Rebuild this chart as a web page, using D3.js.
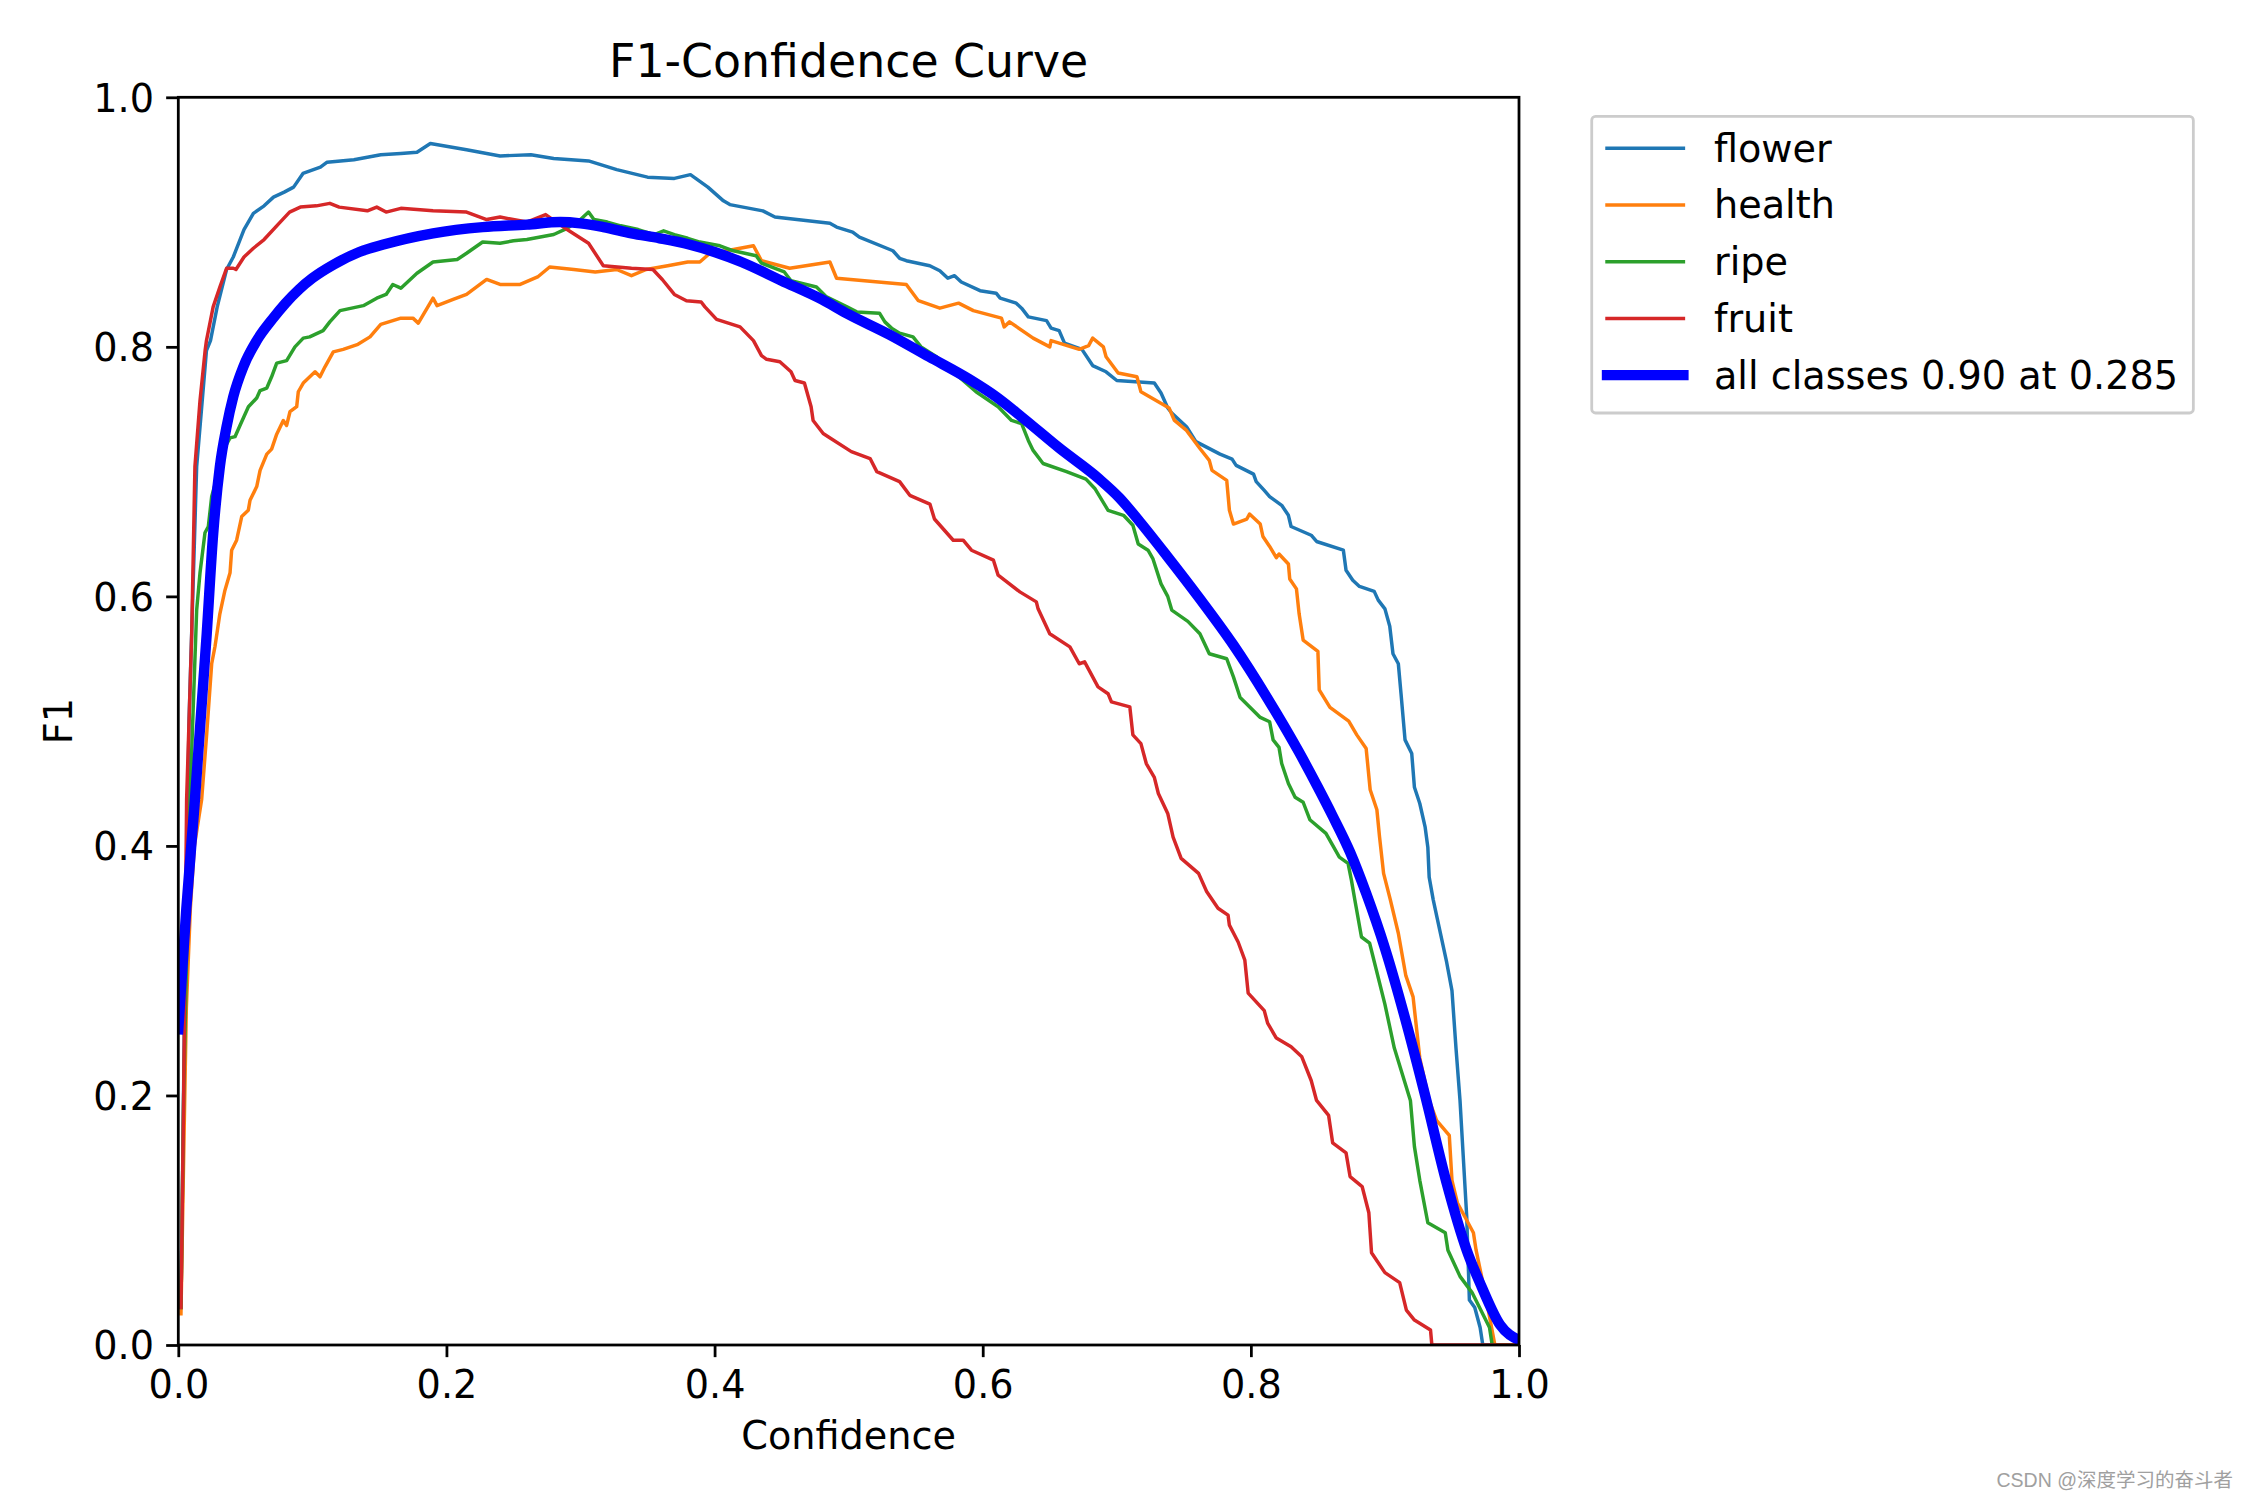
<!DOCTYPE html>
<html>
<head>
<meta charset="utf-8">
<script src="https://cdn.jsdelivr.net/npm/d3@7"></script>
<style>
  html, body { margin: 0; padding: 0; background: #ffffff; }
  svg { display: block; }
</style>
</head>
<body>
<svg id="chart" width="2250" height="1500"></svg>
<script>
// ---------------- DATA ----------------
const chartTitle = "F1-Confidence Curve";
const xLabel = "Confidence";
const yLabel = "F1";
const tickValues = [0, 0.2, 0.4, 0.6, 0.8, 1.0];
const seriesNames = ["flower", "health", "ripe", "fruit", "all classes 0.90 at 0.285"];
const seriesColors = ["#1f77b4", "#ff7f0e", "#2ca02c", "#d62728", "#0000ff"];
const watermark = "CSDN @深度学习的奋斗者";

const flower = [[.002,.03],[.005,.3],[.008,.5],[.0137,.704],[.021,.797],[.024,.805],[.029,.832],[.036,.862],[.041,.872],[.049,.894],[.056,.907],[.064,.913],[.071,.92],[.079,.924],[.086,.928],[.093,.939],[.106,.944],[.111,.948],[.131,.95],[.151,.954],[.166,.955],[.178,.956],[.188,.963],[.215,.958],[.24,.953],[.263,.954],[.28,.951],[.306,.949],[.327,.942],[.35,.936],[.37,.935],[.382,.938],[.395,.928],[.4066,.917],[.4114,.914],[.436,.909],[.445,.904],[.486,.899],[.491,.896],[.503,.892],[.508,.888],[.533,.877],[.538,.871],[.543,.869],[.5605,.865],[.568,.861],[.574,.855],[.579,.857],[.584,.852],[.598,.845],[.61,.843],[.613,.839],[.625,.835],[.629,.831],[.634,.824],[.6476,.821],[.651,.815],[.657,.813],[.661,.803],[.674,.798],[.682,.785],[.692,.78],[.70,.773],[.728,.771],[.733,.763],[.738,.751],[.741,.747],[.752,.736],[.759,.724],[.777,.714],[.786,.71],[.789,.705],[.802,.698],[.804,.692],[.81,.685],[.814,.68],[.823,.673],[.828,.665],[.83,.656],[.845,.649],[.849,.644],[.869,.637],[.871,.621],[.876,.613],[.881,.608],[.892,.604],[.895,.597],[.90,.59],[.9036,.576],[.906,.554],[.91,.546],[.912,.522],[.915,.485],[.92,.474],[.922,.447],[.926,.434],[.93,.415],[.932,.399],[.933,.375],[.936,.357],[.939,.342],[.946,.307],[.95,.284],[.953,.238],[.956,.196],[.961,.103],[.963,.036],[.967,.03],[.971,.014],[.973,0],[1,0]];

const health = [[.002,.025],[.004,.15],[.006,.27],[.009,.35],[.012,.4],[.0174,.437],[.0212,.49],[.0249,.546],[.0274,.56],[.031,.586],[.0348,.605],[.0386,.619],[.0398,.637],[.0435,.645],[.0473,.664],[.0522,.669],[.0535,.677],[.0585,.688],[.061,.701],[.066,.714],[.0696,.718],[.0734,.73],[.0783,.741],[.0808,.737],[.0833,.748],[.0883,.752],[.0895,.764],[.0932,.771],[.102,.78],[.1057,.776],[.1094,.784],[.1156,.796],[.123,.798],[.134,.802],[.143,.808],[.151,.818],[.166,.823],[.175,.823],[.179,.819],[.19,.839],[.193,.833],[.205,.838],[.215,.842],[.23,.854],[.24,.85],[.255,.85],[.268,.856],[.277,.864],[.295,.862],[.311,.86],[.327,.862],[.338,.857],[.349,.862],[.365,.865],[.38,.868],[.389,.868],[.3965,.875],[.409,.877],[.429,.881],[.435,.869],[.456,.863],[.486,.868],[.491,.855],[.543,.85],[.552,.837],[.568,.831],[.582,.835],[.593,.829],[.614,.823],[.616,.816],[.62,.82],[.6376,.807],[.65,.80],[.651,.805],[.672,.798],[.679,.801],[.682,.807],[.69,.80],[.692,.792],[.701,.779],[.715,.776],[.718,.764],[.739,.751],[.743,.741],[.752,.733],[.762,.7185],[.769,.709],[.771,.701],[.782,.693],[.784,.669],[.787,.658],[.797,.662],[.799,.666],[.807,.658],[.809,.648],[.814,.64],[.819,.631],[.821,.634],[.828,.626],[.829,.614],[.834,.606],[.836,.586],[.839,.565],[.85,.556],[.851,.525],[.859,.511],[.873,.50],[.879,.489],[.886,.478],[.889,.445],[.894,.429],[.896,.407],[.899,.378],[.904,.357],[.91,.33],[.9156,.296],[.921,.279],[.926,.23],[.933,.196],[.9385,.18],[.948,.168],[.95,.132],[.954,.114],[.966,.09],[.968,.076],[.975,.04],[.982,0],[1,0]];

const ripe = [[.002,.03],[.004,.2],[.0087,.437],[.0137,.589],[.0162,.619],[.0199,.651],[.0224,.656],[.0249,.68],[.03,.70],[.035,.72],[.0386,.727],[.0423,.728],[.046,.737],[.0523,.752],[.0585,.759],[.061,.765],[.066,.767],[.0696,.776],[.0734,.787],[.0808,.789],[.087,.80],[.0932,.807],[.098,.808],[.108,.813],[.113,.82],[.1206,.829],[.138,.833],[.148,.839],[.155,.842],[.16,.85],[.166,.847],[.178,.859],[.19,.868],[.208,.87],[.215,.875],[.227,.884],[.24,.883],[.25,.885],[.26,.886],[.27,.888],[.28,.89],[.29,.895],[.3,.902],[.306,.908],[.31,.902],[.32,.9],[.33,.897],[.343,.894],[.355,.89],[.362,.893],[.37,.89],[.38,.887],[.389,.884],[.404,.881],[.414,.877],[.431,.873],[.435,.867],[.452,.86],[.457,.853],[.476,.848],[.4835,.84],[.498,.8325],[.506,.828],[.523,.827],[.527,.82],[.532,.815],[.538,.811],[.548,.808],[.554,.80],[.5655,.792],[.58,.778],[.595,.764],[.6115,.752],[.6215,.741],[.629,.7385],[.634,.725],[.6376,.717],[.645,.7065],[.6625,.70],[.677,.694],[.6836,.6865],[.6935,.669],[.705,.665],[.712,.657],[.716,.642],[.7233,.637],[.727,.63],[.733,.61],[.738,.60],[.741,.589],[.753,.58],[.762,.57],[.769,.554],[.782,.55],[.787,.5355],[.792,.519],[.807,.503],[.814,.4995],[.8166,.485],[.821,.479],[.823,.466],[.828,.45],[.833,.439],[.839,.435],[.844,.421],[.856,.41],[.866,.391],[.8725,.386],[.875,.3726],[.8775,.357],[.8825,.327],[.8886,.322],[.90,.273],[.907,.238],[.919,.196],[.922,.159],[.926,.132],[.932,.098],[.945,.09],[.947,.076],[.956,.055],[.965,.042],[.978,.014],[.98,0],[1,0]];

const fruit = [[.002,.03],[.004,.2],[.0062,.437],[.01,.57],[.0124,.704],[.0162,.757],[.02,.797],[.021,.805],[.026,.832],[.031,.848],[.036,.863],[.041,.863],[.043,.862],[.049,.872],[.056,.879],[.064,.886],[.076,.9],[.083,.908],[.091,.912],[.103,.913],[.113,.915],[.12,.912],[.141,.909],[.148,.912],[.155,.908],[.166,.911],[.19,.909],[.215,.908],[.23,.902],[.24,.904],[.26,.90],[.274,.906],[.29,.894],[.306,.883],[.317,.865],[.338,.863],[.354,.862],[.361,.854],[.37,.842],[.379,.837],[.39,.836],[.3928,.832],[.4015,.822],[.419,.816],[.429,.805],[.435,.793],[.4388,.79],[.4487,.788],[.457,.78],[.46,.773],[.467,.771],[.472,.752],[.4735,.741],[.481,.7305],[.4847,.728],[.502,.716],[.516,.7105],[.521,.70],[.538,.692],[.5456,.681],[.5606,.674],[.564,.662],[.578,.645],[.5854,.645],[.5916,.637],[.608,.629],[.6115,.617],[.6277,.6036],[.64,.5956],[.6413,.59],[.65,.57],[.665,.5595],[.672,.546],[.676,.5475],[.686,.5275],[.6935,.522],[.696,.5155],[.7097,.5115],[.712,.489],[.718,.482],[.722,.466],[.728,.455],[.731,.442],[.738,.426],[.742,.407],[.748,.39],[.761,.378],[.767,.3635],[.7755,.35],[.783,.3445],[.784,.3365],[.7905,.323],[.7955,.3085],[.798,.282],[.81,.268],[.8125,.258],[.819,.246],[.83,.239],[.838,.231],[.845,.212],[.849,.196],[.858,.184],[.861,.162],[.871,.154],[.874,.135],[.883,.127],[.888,.106],[.89,.074],[.9,.058],[.911,.05],[.916,.028],[.922,.02],[.934,.012],[.935,0],[1,0]];

const allClasses = [[0,.253],[.006,.35],[.0124,.437],[.0212,.57],[.026,.65],[.031,.704],[.036,.736],[.041,.76],[.0485,.784],[.0585,.805],[.07,.822],[.08,.835],[.09,.846],[.1,.855],[.116,.866],[.135,.876],[.153,.882],[.19,.891],[.227,.896],[.26,.898],[.285,.90],[.3,.899],[.317,.896],[.338,.891],[.359,.887],[.381,.882],[.4,.876],[.42,.868],[.45,.853],[.48,.838],[.5,.826],[.53,.81],[.56,.792],[.59,.774],[.61,.76],[.63,.743],[.657,.719],[.687,.694],[.702,.679],[.717,.66],[.737,.633],[.762,.598],[.787,.561],[.812,.519],[.836,.475],[.85,.447],[.861,.424],[.874,.395],[.886,.362],[.9,.318],[.915,.262],[.93,.2],[.946,.13],[.961,.076],[.972,.047],[.986,.016],[1.0,.004]];

// ---------------- LAYOUT ----------------
const W = 2250, H = 1500;
const box = { left: 178.3, right: 1519, top: 97.3, bottom: 1345 };
const FONT = "'DejaVu Sans', 'Liberation Sans', sans-serif";
const fs = 38.2;           // 11pt at 250 dpi
const titleFs = 45.8;      // 13.2pt
const thin = 3.47, thick = 10.4, spineW = 2.78, tickLen = 12.15, tickPad = 12.15;

const svg = d3.select("#chart");
svg.append("rect").attr("width", W).attr("height", H).attr("fill", "#ffffff");

const x = d3.scaleLinear().domain([0, 1]).range([box.left, box.right]);
const y = d3.scaleLinear().domain([0, 1]).range([box.bottom, box.top]);

// clip
svg.append("defs").append("clipPath").attr("id", "clip")
  .append("rect").attr("x", box.left).attr("y", box.top)
  .attr("width", box.right - box.left).attr("height", box.bottom - box.top);

// lines
const line = d3.line().x(d => x(d[0])).y(d => y(d[1])).curve(d3.curveLinear);
const smooth = d3.line().x(d => x(d[0])).y(d => y(d[1])).curve(d3.curveMonotoneX);
const plotG = svg.append("g").attr("clip-path", "url(#clip)");
const thinSeries = [flower, health, ripe, fruit];
thinSeries.forEach((s, i) => {
  plotG.append("path").datum(s).attr("d", line)
    .attr("fill", "none").attr("stroke", seriesColors[i])
    .attr("stroke-width", thin).attr("stroke-linejoin", "round").attr("stroke-linecap", "square");
});
plotG.append("path").datum(allClasses).attr("d", smooth)
  .attr("fill", "none").attr("stroke", seriesColors[4])
  .attr("stroke-width", thick).attr("stroke-linejoin", "round").attr("stroke-linecap", "square");

// axes
const fmt = d3.format(".1f");
const xAxis = svg.append("g").attr("transform", `translate(0,${box.bottom})`)
  .call(d3.axisBottom(x).tickValues(tickValues).tickFormat(fmt).tickSize(tickLen).tickPadding(tickPad));
const yAxis = svg.append("g").attr("transform", `translate(${box.left},0)`)
  .call(d3.axisLeft(y).tickValues(tickValues).tickFormat(fmt).tickSize(tickLen).tickPadding(tickPad));
[xAxis, yAxis].forEach(g => {
  g.select(".domain").remove();
  g.selectAll(".tick line").attr("stroke", "#000").attr("stroke-width", spineW);
  g.selectAll(".tick text").attr("fill", "#000").style("font-family", FONT).style("font-size", fs + "px");
});
xAxis.selectAll(".tick text").attr("dy", "0.76em");
yAxis.selectAll(".tick text").attr("dy", "0.365em");

// frame
svg.append("rect").attr("x", box.left).attr("y", box.top)
  .attr("width", box.right - box.left).attr("height", box.bottom - box.top)
  .attr("fill", "none").attr("stroke", "#000").attr("stroke-width", spineW)
  .attr("stroke-linejoin", "miter");

// title & labels
const cx = (box.left + box.right) / 2;
svg.append("text").attr("x", cx).attr("y", 76.7).attr("text-anchor", "middle")
  .style("font-family", FONT).style("font-size", titleFs + "px").attr("fill", "#000").text(chartTitle);
svg.append("text").attr("x", cx).attr("y", 1449).attr("text-anchor", "middle")
  .style("font-family", FONT).style("font-size", fs + "px").attr("fill", "#000").text(xLabel);
svg.append("text").attr("transform", `translate(72,${(box.top + box.bottom) / 2}) rotate(-90)`)
  .attr("text-anchor", "middle")
  .style("font-family", FONT).style("font-size", fs + "px").attr("fill", "#000").text(yLabel);

// legend
const legLeft = box.right + 0.04 * (box.right - box.left) + 0.5 * fs;
const legTop = box.top + 0.5 * fs;
const rowStep = 56.7;
const firstLineY = 148.3;
const handleX0 = legLeft + 0.4 * fs, handleX1 = handleX0 + 2.0 * fs;
const textX = handleX1 + 0.8 * fs;
const legG = svg.append("g");
const frame = legG.append("rect");
const texts = [];
seriesNames.forEach((name, i) => {
  const ly = firstLineY + i * rowStep;
  legG.append("line").attr("x1", handleX0).attr("x2", handleX1).attr("y1", ly).attr("y2", ly)
    .attr("stroke", seriesColors[i]).attr("stroke-width", i === 4 ? thick : thin).attr("stroke-linecap", "square");
  texts.push(legG.append("text").attr("x", textX).attr("y", ly + 13.4)
    .style("font-family", FONT).style("font-size", fs + "px").attr("fill", "#000").text(name));
});
let maxW = 0;
texts.forEach(t => { maxW = Math.max(maxW, t.node().getComputedTextLength()); });
const legRight = textX + maxW + 0.4 * fs;
const legBottom = 413;
frame.attr("x", legLeft).attr("y", legTop).attr("width", legRight - legLeft).attr("height", legBottom - legTop)
  .attr("rx", 0.2 * fs * 0.5).attr("ry", 0.2 * fs * 0.5)
  .attr("fill", "#ffffff").attr("fill-opacity", 0.8)
  .attr("stroke", "#cccccc").attr("stroke-width", spineW);

// watermark
svg.append("text").attr("x", 2233).attr("y", 1487).attr("text-anchor", "end")
  .style("font-family", "'Liberation Sans', Arial, 'Noto Sans CJK SC', sans-serif")
  .style("font-size", "19.5px").attr("fill", "#a0a0a0").text(watermark);
</script>
</body>
</html>
